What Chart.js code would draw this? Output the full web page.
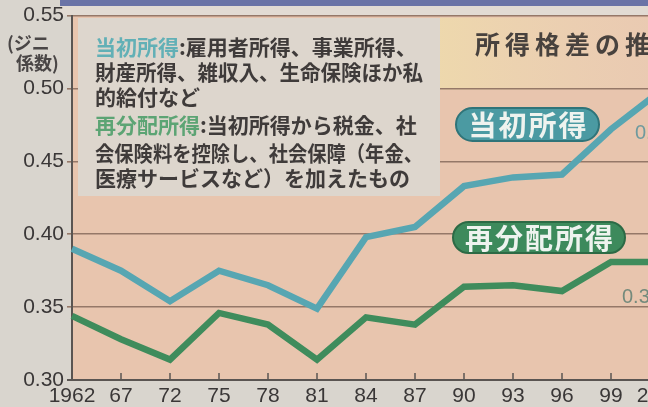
<!DOCTYPE html>
<html lang="ja">
<head>
<meta charset="utf-8">
<title>所得格差の推移</title>
<script src="https://cdn.jsdelivr.net/npm/chart.js@4.4.1/dist/chart.umd.min.js"></script>
<style>
  html, body { margin: 0; padding: 0; overflow: hidden; background: #d9d5ce; }
  #wrap { width: 648px; height: 407px; overflow: hidden; }
  canvas { display: block; }
</style>
</head>
<body>
<div id="wrap"><canvas id="gini" width="700" height="407"></canvas></div>
<script>
// ジニ係数の推移（当初所得・再分配所得）
const years = ['1962', '67', '72', '75', '78', '81', '84', '87', '90', '93', '96', '99', '2002'];
const initialIncome = [0.390, 0.375, 0.354, 0.375, 0.365, 0.349, 0.398, 0.405, 0.433, 0.439, 0.441, 0.472, 0.498];
const redistIncome = [0.344, 0.328, 0.314, 0.346, 0.338, 0.314, 0.343, 0.338, 0.364, 0.365, 0.361, 0.381, 0.381];
const yTicks = [0.30, 0.35, 0.40, 0.45, 0.50, 0.55];

const TEAL = '#57a6b2';
const GREEN = '#3f8c5c';
const INK = '#3f3b3a';
const JP = '"Noto Sans CJK JP", sans-serif';
const NUM = '"Liberation Sans", Arial, sans-serif';

const noteLines = [
  [['当初所得', '#62b0b6'], [':雇用者所得、事業所得、', INK]],
  [['財産所得、雑収入、生命保険ほか私', INK]],
  [['的給付など', INK]],
  [['再分配所得', '#5ca474'], [':当初所得から税金、社', INK]],
  [['会保険料を控除し、社会保障（年金、', INK]],
  [['医療サービスなど）を加えたもの', INK]]
];
const noteY = [47, 72, 97, 125, 153, 178];

function pill(ctx, x, y, w, h, fill, edge, text) {
  const r = h / 2;
  ctx.save();
  ctx.beginPath();
  ctx.moveTo(x + r, y);
  ctx.lineTo(x + w - r, y);
  ctx.arc(x + w - r, y + r, r, -Math.PI / 2, Math.PI / 2);
  ctx.lineTo(x + r, y + h);
  ctx.arc(x + r, y + r, r, Math.PI / 2, Math.PI * 1.5);
  ctx.closePath();
  ctx.fillStyle = fill;
  ctx.fill();
  ctx.lineWidth = 2;
  ctx.strokeStyle = edge;
  ctx.stroke();
  ctx.fillStyle = '#eef3ef';
  ctx.font = 'bold 28px ' + JP;
  ctx.letterSpacing = '2px';
  ctx.textAlign = 'center';
  ctx.textBaseline = 'middle';
  ctx.fillText(text, x + w / 2 + 1, y + h / 2 + 1);
  ctx.restore();
}

const paper = {
  id: 'paper',
  beforeDraw(chart) {
    const { ctx, chartArea: a, width } = chart;
    ctx.save();
    ctx.fillStyle = '#d9d5ce';
    ctx.fillRect(0, 0, width, chart.height);
    // header strip
    ctx.fillStyle = '#6a73a6';
    ctx.fillRect(60, 0, width, 6);
    ctx.fillStyle = '#e2dbd3';
    ctx.fillRect(60, 6, width, a.top - 6);
    // plot paper
    ctx.fillStyle = '#e8c5ae';
    ctx.fillRect(a.left, a.top, width - a.left, a.bottom - a.top);
    // title band
    const g = ctx.createLinearGradient(440, 0, 648, 0);
    g.addColorStop(0, 'rgba(240,224,172,0.7)');
    g.addColorStop(1, 'rgba(238,214,186,0.3)');
    ctx.fillStyle = g;
    ctx.fillRect(440, a.top + 2, width - 440, 72);
    ctx.restore();
  },
  beforeDatasetsDraw(chart) {
    const { ctx } = chart;
    ctx.save();
    ctx.fillStyle = '#ddd6cd';
    ctx.fillRect(78, 18, 362, 178);
    ctx.font = 'bold 21px ' + JP;
    ctx.textBaseline = 'middle';
    noteLines.forEach((segs, i) => {
      // squeeze long lines the way the typeset column does
      const total = segs.reduce((s, [t]) => s + ctx.measureText(t).width, 0);
      const k = Math.min(1, 328 / total);
      ctx.save();
      ctx.translate(95, noteY[i]);
      ctx.scale(k, 1);
      let x = 0;
      segs.forEach(([t, c]) => {
        ctx.fillStyle = c;
        ctx.fillText(t, x, 0);
        x += ctx.measureText(t).width;
      });
      ctx.restore();
    });
    // title
    ctx.fillStyle = '#48423e';
    ctx.font = 'bold 25px ' + JP;
    ctx.letterSpacing = '5px';
    ctx.fillText('所得格差の推移', 475, 44);
    ctx.restore();
  },
  afterDatasetsDraw(chart) {
    const { ctx, chartArea: a } = chart;
    const xs = chart.scales.x, ys = chart.scales.y;
    ctx.save();
    // inward ticks on the year axis
    ctx.strokeStyle = '#5a5552';
    ctx.lineWidth = 1.5;
    years.forEach((_, i) => {
      const x = xs.getPixelForValue(i);
      ctx.beginPath();
      ctx.moveTo(x, a.bottom);
      ctx.lineTo(x, a.bottom - 7);
      ctx.stroke();
    });
    ctx.restore();

    pill(ctx, 456, 108, 143, 33, '#4b9aa2', '#2f7479', '当初所得');
    pill(ctx, 453, 222, 172, 31, '#3d8a5c', '#2c6a45', '再分配所得');

    // end values
    const last = years.length - 1;
    const px = xs.getPixelForValue(last);
    ctx.save();
    ctx.font = '20px ' + NUM;
    ctx.textBaseline = 'middle';
    ctx.fillStyle = '#6f9a9e';
    ctx.fillText(initialIncome[last].toFixed(3), px - 25, ys.getPixelForValue(initialIncome[last]) + 42);
    ctx.fillStyle = '#748a7c';
    ctx.fillText(redistIncome[last].toFixed(3), px - 38, ys.getPixelForValue(redistIncome[last]) + 36);
    ctx.restore();
  },
  afterDraw(chart) {
    const { ctx } = chart;
    ctx.save();
    ctx.fillStyle = '#4a4646';
    ctx.font = 'bold 18px ' + JP;
    ctx.textBaseline = 'middle';
    ctx.fillText('(ジニ', 7, 43);
    ctx.fillText('係数)', 16, 63);
    ctx.restore();
  }
};

new Chart(document.getElementById('gini'), {
  type: 'line',
  data: {
    labels: years,
    datasets: [
      { label: '当初所得', data: initialIncome, borderColor: TEAL, borderWidth: 6.5, pointRadius: 0, tension: 0 },
      { label: '再分配所得', data: redistIncome, borderColor: GREEN, borderWidth: 6.5, pointRadius: 0, tension: 0 }
    ]
  },
  options: {
    responsive: false,
    animation: false,
    layout: { padding: { top: 15, right: 40, left: 0, bottom: 0 } },
    plugins: { legend: { display: false }, tooltip: { enabled: false } },
    scales: {
      x: {
        offset: false,
        grid: { display: false, drawTicks: false },
        border: { color: '#5a5552', width: 2 },
        ticks: { font: { family: NUM, size: 21 }, color: '#3a3737', padding: 4, maxRotation: 0, autoSkip: false },
        afterFit(s) { s.height = 27; }
      },
      y: {
        min: 0.30,
        max: 0.55,
        afterBuildTicks(s) { s.ticks = yTicks.map(v => ({ value: v })); },
        ticks: { font: { family: NUM, size: 21 }, color: '#3a3737', padding: 3, callback: v => v.toFixed(2) },
        grid: {
          tickLength: 5,
          color: c => (c.tick && c.tick.value === 0.30) ? '#5a5552' : '#957868',
          lineWidth: c => (c.tick && c.tick.value === 0.30) ? 2 : 1.6
        },
        border: { color: '#5a5552', width: 2 },
        afterFit(s) { s.width = 72; }
      }
    }
  },
  plugins: [paper]
});
</script>
</body>
</html>
